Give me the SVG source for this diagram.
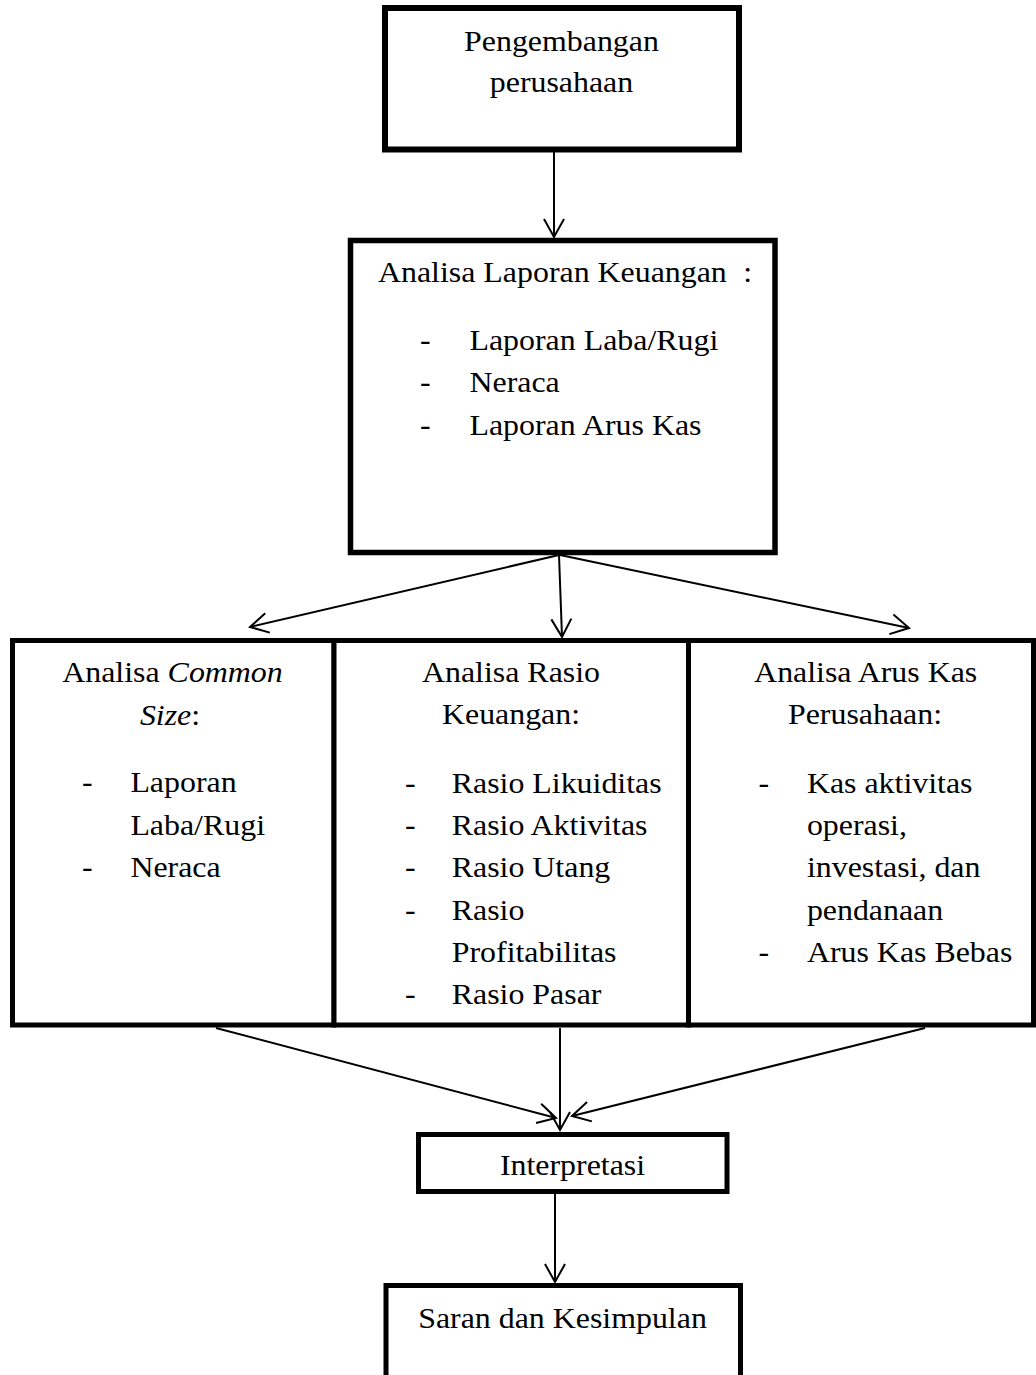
<svg xmlns="http://www.w3.org/2000/svg" width="1036" height="1375" viewBox="0 0 1036 1375">
<style>
.box{fill:#fff;stroke:#000;stroke-width:5}
.t{font-family:"Liberation Serif","Times New Roman",serif;font-size:29px;fill:#000}
.c{text-anchor:middle}
.i{font-style:italic}
.conn line{stroke:#000;stroke-width:2;marker-end:url(#ah)}
</style>
<defs>
<marker id="ah" markerUnits="userSpaceOnUse" markerWidth="24" markerHeight="24" viewBox="-20 -12 24 24" refX="0" refY="0" orient="auto">
<path d="M-18,-10 L0,0 L-18,10" fill="none" stroke="#000" stroke-width="2"/>
</marker>
</defs>
<rect width="1036" height="1375" fill="#fff"/>

<g id="pengembangan">
<rect class="box" x="385" y="8" width="354" height="141.5" style="stroke-width:6"/>
<text class="t c" x="0" y="51" transform="translate(561.5 0) scale(1.1 1)">Pengembangan</text>
<text class="t c" x="0" y="92" transform="translate(561.5 0) scale(1.1 1)">perusahaan</text>
</g>

<g id="analisa-laporan">
<rect class="box" x="350.5" y="240.5" width="424.5" height="312" style="stroke-width:5.5"/>
<text class="t" x="0" y="282" transform="translate(378 0) scale(1.1 1)">Analisa Laporan Keuangan<tspan x="332">:</tspan></text>
<text class="t" x="0" y="350" transform="translate(420 0) scale(1.1 1)">-<tspan x="45">Laporan Laba/Rugi</tspan></text>
<text class="t" x="0" y="392.5" transform="translate(420 0) scale(1.1 1)">-<tspan x="45">Neraca</tspan></text>
<text class="t" x="0" y="435" transform="translate(420 0) scale(1.1 1)">-<tspan x="45">Laporan Arus Kas</tspan></text>
</g>

<g id="common-size">
<rect class="box" x="12.5" y="640.5" width="321.5" height="384.5"/>
<text class="t c" x="0" y="682.5" transform="translate(172.5 0) scale(1.1 1)">Analisa <tspan class="i">Common</tspan></text>
<text class="t c" x="0" y="725.5" transform="translate(170 0) scale(1.1 1)"><tspan class="i">Size</tspan>:</text>
<text class="t" x="0" y="792.5" transform="translate(82 0) scale(1.1 1)">-<tspan x="44">Laporan</tspan></text>
<text class="t" x="0" y="834.7" transform="translate(82 0) scale(1.1 1)"><tspan x="44">Laba/Rugi</tspan></text>
<text class="t" x="0" y="877" transform="translate(82 0) scale(1.1 1)">-<tspan x="44">Neraca</tspan></text>
</g>

<g id="rasio-keuangan">
<rect class="box" x="334" y="640.5" width="354.5" height="384.5"/>
<text class="t c" x="0" y="682" transform="translate(511 0) scale(1.1 1)">Analisa Rasio</text>
<text class="t c" x="0" y="724.5" transform="translate(511 0) scale(1.1 1)">Keuangan:</text>
<text class="t" x="0" y="793" transform="translate(405 0) scale(1.1 1)">-<tspan x="42.5">Rasio Likuiditas</tspan></text>
<text class="t" x="0" y="835.2" transform="translate(405 0) scale(1.1 1)">-<tspan x="42.5">Rasio Aktivitas</tspan></text>
<text class="t" x="0" y="877.4" transform="translate(405 0) scale(1.1 1)">-<tspan x="42.5">Rasio Utang</tspan></text>
<text class="t" x="0" y="919.6" transform="translate(405 0) scale(1.1 1)">-<tspan x="42.5">Rasio</tspan></text>
<text class="t" x="0" y="961.8" transform="translate(405 0) scale(1.1 1)"><tspan x="42.5">Profitabilitas</tspan></text>
<text class="t" x="0" y="1004" transform="translate(405 0) scale(1.1 1)">-<tspan x="42.5">Rasio Pasar</tspan></text>
</g>

<g id="arus-kas">
<rect class="box" x="688.5" y="640.5" width="345" height="384.5"/>
<text class="t c" x="0" y="682" transform="translate(865.7 0) scale(1.1 1)">Analisa Arus Kas</text>
<text class="t c" x="0" y="724.5" transform="translate(865 0) scale(1.1 1)">Perusahaan:</text>
<text class="t" x="0" y="793" transform="translate(758.5 0) scale(1.1 1)">-<tspan x="44">Kas aktivitas</tspan></text>
<text class="t" x="0" y="835.2" transform="translate(758.5 0) scale(1.1 1)"><tspan x="44">operasi,</tspan></text>
<text class="t" x="0" y="877.4" transform="translate(758.5 0) scale(1.1 1)"><tspan x="44">investasi, dan</tspan></text>
<text class="t" x="0" y="919.6" transform="translate(758.5 0) scale(1.1 1)"><tspan x="44">pendanaan</tspan></text>
<text class="t" x="0" y="961.8" transform="translate(758.5 0) scale(1.1 1)">-<tspan x="44">Arus Kas Bebas</tspan></text>
</g>

<g id="interpretasi">
<rect class="box" x="418.5" y="1134.5" width="308.5" height="57"/>
<text class="t c" x="0" y="1175" transform="translate(572.5 0) scale(1.1 1)">Interpretasi</text>
</g>

<g id="saran">
<rect class="box" x="386" y="1285.5" width="354.5" height="120"/>
<text class="t c" x="0" y="1328" transform="translate(562.5 0) scale(1.1 1)">Saran dan Kesimpulan</text>
</g>

<g id="connectors" class="conn">
<line x1="554" y1="152" x2="554" y2="237"/>
<line x1="559" y1="555" x2="250" y2="627"/>
<line x1="559" y1="555" x2="562" y2="637"/>
<line x1="560" y1="555" x2="909" y2="628"/>
<line x1="216" y1="1028" x2="556" y2="1118"/>
<line x1="560" y1="1028" x2="560" y2="1130"/>
<line x1="925" y1="1028" x2="572" y2="1116"/>
<line x1="555" y1="1194" x2="555" y2="1282"/>
</g>
</svg>
